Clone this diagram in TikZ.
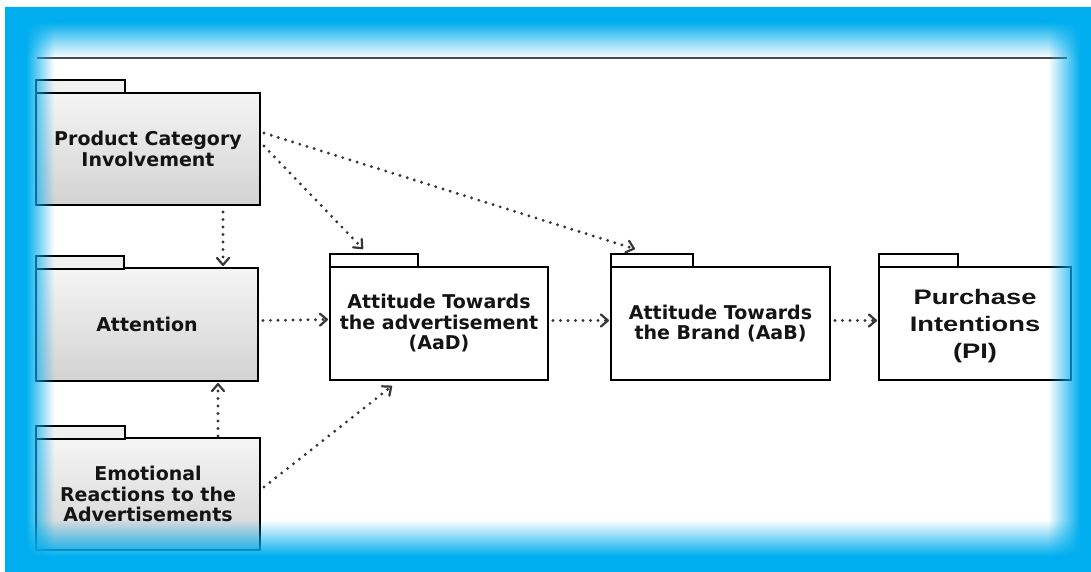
\documentclass[tikz,border=0pt]{standalone}
\usepackage{graphicx}
\usepackage{fontspec}
\setmainfont{DejaVu Sans}
\newfontfamily\pifont{Liberation Sans}
\usetikzlibrary{arrows.meta,calc,fadings}
\definecolor{frameblue}{RGB}{0,174,239}
\definecolor{dotgray}{RGB}{55,55,55}
\definecolor{txt}{RGB}{20,20,20}
\tikzfading[name=fadeLR, left color=transparent!0, right color=transparent!100]
\tikzfading[name=fadeRL, left color=transparent!100, right color=transparent!0]
\tikzfading[name=fadeTB, top color=transparent!0, bottom color=transparent!100]
\tikzfading[name=fadeBT, top color=transparent!100, bottom color=transparent!0]
\begin{document}
\begin{tikzpicture}[x=1pt,y=-1pt,
 pkg/.style={draw=black,line width=2pt,inner sep=0pt,align=center,text=txt,
   font=\bfseries\fontsize{19}{20.5}\selectfont},
 graypkg/.style={pkg,top color=gray!8,bottom color=gray!35},
 whitepkg/.style={pkg,fill=white},
 tabbox/.style={draw=black,line width=2pt,inner sep=0pt,minimum height=13pt},
 graytab/.style={tabbox,fill=gray!12},
 whitetab/.style={tabbox,fill=white},
 dep/.style={dotgray,line width=3.2pt,line cap=round,dash pattern=on 0pt off 7.5pt,
   -{Straight Barb[length=7pt,width=12pt,line width=2.2pt,round]}}
]
\useasboundingbox (0,0) rectangle (1091,572);
\fill[white] (0,0) rectangle (1091,572);

% horizontal rule
\draw[line width=1.5pt,black!70] (37,58) -- (1067,58);

% left column
\node[graypkg,minimum width=224pt,minimum height=112pt] (pci) at (148,149) {Product Category\\Involvement};
\node[graytab,minimum width=89pt] (pcitab) at (80.5,86.5) {};
\node[graypkg,minimum width=222pt,minimum height=113pt] (att) at (147,324.5) {Attention};
\node[graytab,minimum width=88pt] (atttab) at (80,262) {};
\node[graypkg,minimum width=224pt,minimum height=112pt] (emo) at (148,494) {Emotional\\Reactions to the\\Advertisements};
\node[graytab,minimum width=89pt] (emotab) at (80.5,432) {};

% right row
\node[whitepkg,minimum width=218pt,minimum height=113pt] (aad) at (439,323.5) {Attitude Towards\\the advertisement\\(AaD)};
\node[whitetab,minimum width=88pt] (aadtab) at (374,260.5) {};
\node[whitepkg,minimum width=219pt,minimum height=113pt] (aab) at (720.5,323.5) {Attitude Towards\\the Brand (AaB)};
\node[whitetab,minimum width=82pt] (aabtab) at (652,260.5) {};
\node[whitepkg,minimum width=192pt,minimum height=113pt] (pi) at (975,323.5)
  {\raisebox{-3pt}[\height][\depth]{\pifont\bfseries\fontsize{21}{27}\selectfont\scalebox{1.3}[1]{\begin{tabular}{@{}c@{}}Purchase\\Intentions\\(PI)\end{tabular}}}};
\node[whitetab,minimum width=79pt] (pitab) at (918.5,260.5) {};

% connectors
\draw[dep] ($(pci.south)+(75,6)$) -- ($(att.north)+(76,-1)$);
\draw[dep] ($(pci.east)+(3,-3)$) -- ($(aadtab.north)+(-11,-4)$);
\draw[dep] ($(pci.east)+(3,-16)$) -- ($(aabtab.north)+(-17,-4)$);
\draw[dep] ($(att.east)+(4,-4)$) -- ($(aad.west)+(-1,-4)$);
\draw[dep] ($(emo.north)+(70,-1)$) -- ($(att.south)+(71,1)$);
\draw[dep] ($(emo.east)+(3,-7)$) -- ($(aad.south)+(-47,5)$);
\draw[dep] ($(aad.east)+(4,-3)$) -- ($(aab.west)+(-1,-3)$);
\draw[dep] ($(aab.east)+(4,-3)$) -- ($(pi.west)+(-1,-3)$);

% blue glowing frame
\fill[frameblue,even odd rule] (5,7) rectangle (1091,572) (26,22) rectangle (1080,556);
\fill[frameblue,path fading=fadeLR] (26,22) rectangle (54,556);
\fill[frameblue,path fading=fadeRL] (1048,22) rectangle (1080,556);
\fill[frameblue,path fading=fadeTB] (26,22) rectangle (1080,58);
\fill[frameblue,path fading=fadeBT] (26,520) rectangle (1080,556);
\end{tikzpicture}
\end{document}
